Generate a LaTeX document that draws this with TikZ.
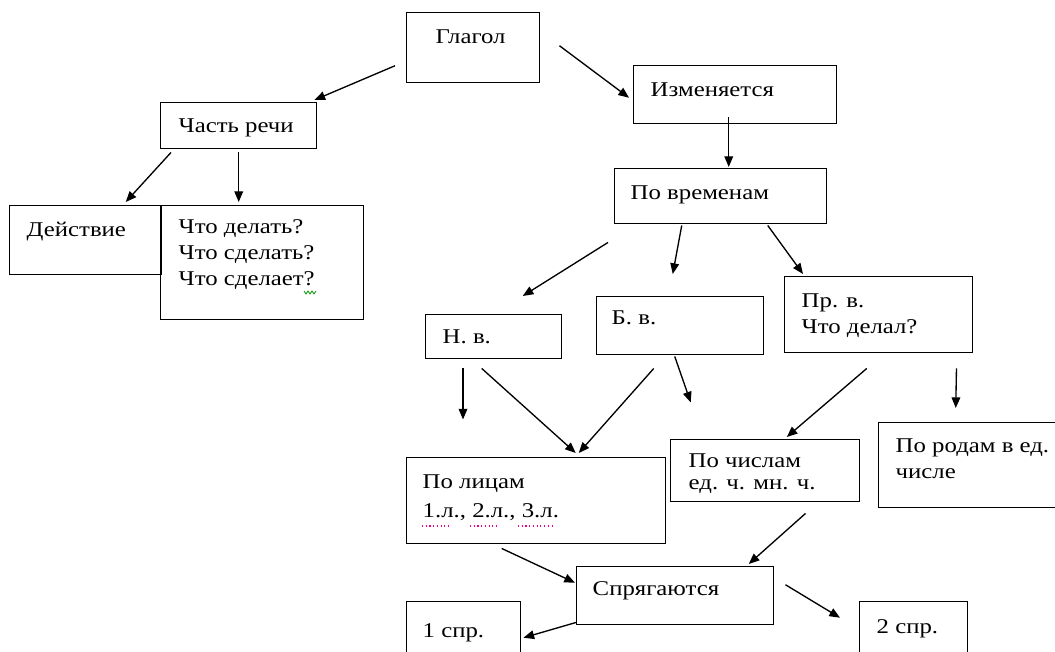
\documentclass[tikz,border=0pt]{standalone}
\usepackage{fontspec}
\setmainfont{Liberation Serif}[FakeStretch=1.18]
\usetikzlibrary{arrows.meta}
\newdimen\pxu \pxu=0.75pt
\newcommand{\cell}[5][31]{\parbox[t][#3\pxu][t]{#2\pxu}{\raggedright\leftskip=#4\pxu\rule{0pt}{#1\pxu}#5}}
\tikzset{
  box/.style={draw, line width=1.1pt, anchor=north west, inner sep=0pt,
    font=\fontsize{15.75pt}{19.5pt}\selectfont},
  arr/.style={-{Triangle[length=8pt,width=6.5pt]}, line width=1pt}
}
\begin{document}
\begin{tikzpicture}[x=0.75pt,y=-0.75pt]
  \useasboundingbox (0,0) rectangle (1055,652);
  \clip (0,0) rectangle (1055,652);

  \node[box] (glag) at (406,12) {\cell{133}{70}{29}{Глагол}};
  \node[box] (izm) at (633,65) {\cell{203}{58}{17}{Изменяется}};
  \node[box] (chast) at (160,102) {\cell[30]{156}{46}{18}{Часть речи}};
  \node[box] (deistv) at (9,205) {\cell{152}{69}{17}{Действие}};
  \node[box] (vopr) at (160,205) {\cell[28]{203}{114}{18}{Что делать?\\Что сделать?\\Что сделает?}};
  \node[box] (vrem) at (614,168) {\cell{212}{55}{16}{По временам}};
  \node[box] (nv) at (425,314) {\cell[29]{136}{44}{17}{Н. в.}};
  \node[box] (bv) at (596,296) {\cell[28]{167}{58}{15}{Б. в.}};
  \node[box] (prv) at (784,276) {\cell{188}{76}{17}{Пр. в.\\Что делал?}};
  \node[box] (rod) at (878,422) {\cell[30]{180}{85}{17}{По родам в ед.\\числе}};
  \node[box] (chisl) at (670,439) {\cell[28]{189}{62}{18}{По числам\\[-4\pxu]ед. ч. мн. ч.}};
  \node[box] (lits) at (406,457) {\cell{259}{86}{16}{По лицам\\[3\pxu]1.л., 2.л., 3.л.}};
  \node[box] (spr) at (576,566) {\cell[29]{197}{58}{16}{Спрягаются}};
  \node[box] (spr1) at (406,601) {\cell[36]{114}{70}{16}{1 спр.}};
  \node[box] (spr2) at (859,601) {\cell[32]{108}{70}{17}{2 спр.}};

  \draw[arr] ([shift={(-11,18)}]glag.west) -- ([shift={(-3,-2)}]chast.north east);
  \draw[arr] ([shift={(19,-2)}]glag.east) -- ([shift={(-4,3)}]izm.west);
  \draw[arr] ([shift={(-6.5,-7)}]izm.south) -- ([shift={(8,-1)}]vrem.north);
  \draw[arr] ([shift={(11,3)}]chast.south west) -- ([shift={(40,-3)}]deistv.north);
  \draw[arr] ([shift={(0,3)}]chast.south) -- ([shift={(-23.5,-3)}]vopr.north);
  \draw[arr] ([shift={(-6,18)}]vrem.south west) -- ([shift={(29,-18)}]nv.north);
  \draw[arr] ([shift={(-39,1)}]vrem.south) -- ([shift={(-7.5,-22)}]bv.north);
  \draw[arr] ([shift={(47,1)}]vrem.south) -- ([shift={(19,-2)}]prv.north west);
  \draw[arr] ([shift={(38,9)}]nv.south west) -- ([shift={(38,60)}]nv.south west);
  \draw[arr] ([shift={(-12,9)}]nv.south) -- ([shift={(39.5,-4)}]lits.north);
  \draw[arr] ([shift={(-26.5,13)}]bv.south) -- ([shift={(42.5,-4)}]lits.north);
  \draw[arr] ([shift={(-5.5,1)}]bv.south) -- ([shift={(10.5,47)}]bv.south);
  \draw[arr] ([shift={(-12,15)}]prv.south) -- ([shift={(21.5,-2)}]chisl.north);
  \draw[arr] ([shift={(-17,15)}]prv.south east) -- ([shift={(-13,-14)}]rod.north);
  \draw[arr] ([shift={(-34.5,4)}]lits.south) -- ([shift={(-1,-13)}]spr.west);
  \draw[arr] ([shift={(-55,11)}]chisl.south east) -- ([shift={(73.5,-2)}]spr.north);
  \draw[arr] ([shift={(0,-3)}]spr.south west) -- ([shift={(2,1)}]spr1.east);
  \draw[arr] ([shift={(11,-11)}]spr.east) -- ([shift={(-19,-19)}]spr2.west);

  \draw[green!60!black, line width=0.6pt] (304,291) -- (306,294) -- (308,291) -- (310,294) -- (312,291) -- (314,294) -- (316,291);
  \foreach \a/\b in {422/451, 470/499, 518/553}
    \draw[magenta, line width=0.8pt, dotted] (\a,526) -- (\b,526);
\end{tikzpicture}
\end{document}
